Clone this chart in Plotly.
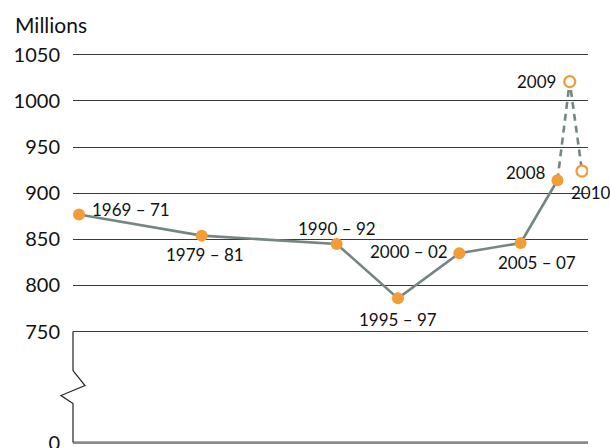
import plotly.graph_objects as go

# ---- data ----
periods = ["1969 – 71", "1979 – 81", "1990 – 92", "1995 – 97", "2000 – 02",
           "2005 – 07", "2008", "2009", "2010"]
period_start = [1969, 1979, 1990, 1995, 2000, 2005, 2008, 2009, 2010]
undernourished = [877, 854, 845, 786, 835, 846, 914, 1021, 924]
projected = [False, False, False, False, False, False, False, True, True]

tick_values = [750, 800, 850, 900, 950, 1000, 1050]
tick_labels = ["750", "800", "850", "900", "950", "1000", "1050"]
axis_break_value = 629.6   # position on the axis where the "0" baseline is drawn
zero_label = "0"

# ---- styles ----
FONT = "Lato"
ORANGE = "#F39C38"
LINE = "#748683"
GRID = "#3a3a3a"

# label placement: (xanchor, xshift, yshift)
label_place = [
    ("left", 11, 5), ("center", 3, -19), ("center", 0, 15), ("center", 0, -21),
    ("right", -9, 2), ("center", 16, -19), ("right", -9, 8), ("right", -12, 0),
    ("center", 9, -21),
]

solid_idx = [i for i, p in enumerate(projected) if not p]
last_actual = solid_idx[-1]
dash_idx = [last_actual] + [i for i, p in enumerate(projected) if p]

fig = go.Figure()

fig.add_trace(go.Scatter(
    x=[period_start[i] for i in solid_idx],
    y=[undernourished[i] for i in solid_idx],
    mode="lines", line=dict(color=LINE, width=2.6), hoverinfo="skip",
))
fig.add_trace(go.Scatter(
    x=[period_start[i] for i in dash_idx],
    y=[undernourished[i] for i in dash_idx],
    mode="lines", line=dict(color=LINE, width=2.6, dash="7px,5px"), hoverinfo="skip",
))
fig.add_trace(go.Scatter(
    x=[period_start[i] for i in solid_idx],
    y=[undernourished[i] for i in solid_idx],
    mode="markers", marker=dict(color=ORANGE, size=12, line=dict(width=0)),
    text=[periods[i] for i in solid_idx],
))
proj_idx = [i for i, p in enumerate(projected) if p]
fig.add_trace(go.Scatter(
    x=[period_start[i] for i in proj_idx],
    y=[undernourished[i] for i in proj_idx],
    mode="markers", marker=dict(color="white", size=11, line=dict(color=ORANGE, width=2.3)),
    text=[periods[i] for i in proj_idx],
))

for i, lab in enumerate(periods):
    xa, xs, ys = label_place[i]
    fig.add_annotation(
        x=period_start[i], y=undernourished[i], xref="x", yref="y",
        text=lab, showarrow=False, xanchor=xa, yanchor="middle",
        xshift=xs, yshift=ys, font=dict(family=FONT, size=17, color="#111"),
    )

fig.add_annotation(
    x=0, y=1, xref="paper", yref="paper", xanchor="left", yanchor="middle",
    xshift=-60, yshift=29, text="Millions", showarrow=False,
    font=dict(family=FONT, size=21, color="#111"),
)

# baseline at "0"
fig.add_shape(type="line", xref="paper", yref="y", x0=0, x1=1,
              y0=axis_break_value, y1=axis_break_value,
              line=dict(color="#8a8a8a", width=2.6), layer="above")
# left axis segment with break zigzag (750 down to 0)
fig.add_shape(type="path", xref="paper", yref="y",
              xsizemode="pixel", ysizemode="pixel", xanchor=0, yanchor=750,
              path="M0,0 V-39 L12,-54 L-12,-64 L0,-72 V-111",
              line=dict(color="#222", width=1.2), layer="above")

fig.update_layout(
    width=610, height=448,
    margin=dict(l=73, r=22, t=53, b=3),
    paper_bgcolor="white", plot_bgcolor="white",
    showlegend=False,
    xaxis=dict(range=[1968.51, 2010.49], visible=False, showgrid=False, zeroline=False),
    yaxis=dict(
        range=[627, 1052],
        tickvals=[axis_break_value] + tick_values,
        ticktext=[zero_label] + tick_labels,
        showgrid=True, gridcolor=GRID, gridwidth=1,
        zeroline=False, showline=False, ticks="",
        ticklabelstandoff=12, automargin=False, ticklabeloverflow="allow",
        tickfont=dict(family=FONT, size=20, color="#111"),
    ),
)

fig.write_html("out.html", config={"displayModeBar": False},
               post_script="document.body.style.margin='0';document.body.style.overflow='hidden';")
